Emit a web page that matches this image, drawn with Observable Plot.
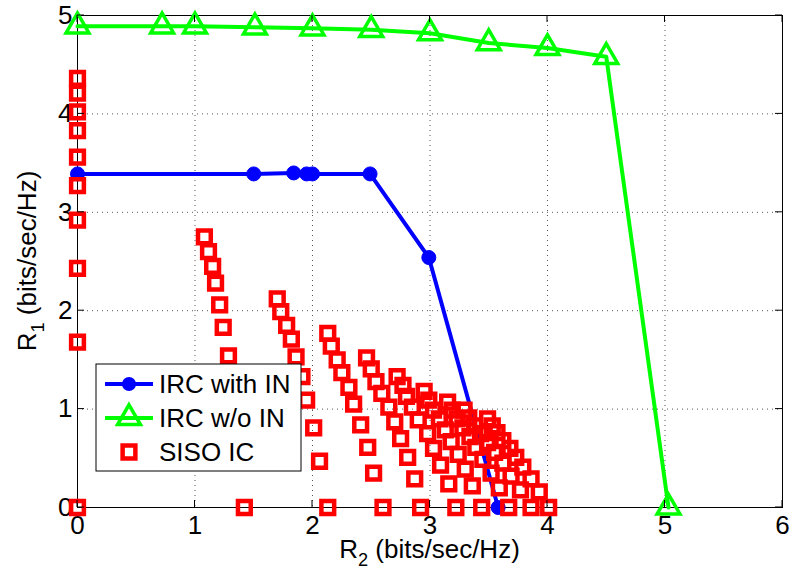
<!DOCTYPE html>
<html><head><meta charset="utf-8">
<script src="https://cdn.jsdelivr.net/npm/d3@7"></script>
<script src="https://cdn.jsdelivr.net/npm/@observablehq/plot@0.6"></script>
<style>
body{margin:0;background:#fff}
svg{font-family:"Liberation Sans",Arial,sans-serif}
</style>
</head><body><div id="chart"></div>
<script>
const xTicks = [0, 1, 2, 3, 4, 5, 6];
const yTicks = [0, 1, 2, 3, 4, 5];
const seriesNames = ["IRC with IN", "IRC w/o IN", "SISO IC"];

// IRC with IN
const ircWithX = [0, 1.50, 1.84, 1.95, 2.00, 2.49, 2.99, 3.58];
const ircWithY = [3.39, 3.39, 3.40, 3.39, 3.39, 3.39, 2.54, 0];

// IRC w/o IN
const ircWoX = [0, 0.72, 1.00, 1.51, 2.00, 2.50, 3.00, 3.50, 4.00, 4.50, 5.03];
const ircWoY = [4.89, 4.89, 4.89, 4.88, 4.87, 4.855, 4.82, 4.72, 4.67, 4.58, 0];

// SISO IC (each inner array is one chain of points)
const sisoX = [
  [0, 0, 0, 0, 0, 0, 0, 0, 0, 0],
  [1.08, 1.115, 1.15, 1.175, 1.21, 1.24, 1.285, 1.33, 1.37, 1.42],
  [1.70, 1.73, 1.78, 1.82, 1.86, 1.91, 1.95, 2.01, 2.06, 2.13],
  [2.13, 2.16, 2.21, 2.25, 2.31, 2.35, 2.41, 2.47, 2.52, 2.60],
  [2.46, 2.50, 2.54, 2.59, 2.65, 2.70, 2.75, 2.81, 2.87, 2.92],
  [2.72, 2.77, 2.80, 2.85, 2.90, 2.98, 3.03, 3.09, 3.16, 3.22],
  [2.95, 2.99, 3.03, 3.08, 3.13, 3.18, 3.24, 3.30, 3.36, 3.44],
  [3.15, 3.19, 3.23, 3.28, 3.34, 3.39, 3.45, 3.52, 3.59, 3.67],
  [3.29, 3.33, 3.38, 3.43, 3.49, 3.55, 3.62, 3.69, 3.77, 3.86],
  [3.49, 3.53, 3.57, 3.62, 3.68, 3.73, 3.79, 3.86, 3.93, 4.01]
];
const sisoY = [
  [4.36, 4.21, 4.02, 3.83, 3.56, 3.27, 2.92, 2.43, 1.68, 0],
  [2.75, 2.60, 2.45, 2.28, 2.06, 1.83, 1.54, 1.20, 0.70, 0],
  [2.12, 1.99, 1.85, 1.71, 1.53, 1.33, 1.09, 0.81, 0.47, 0],
  [1.77, 1.64, 1.50, 1.37, 1.22, 1.05, 0.84, 0.61, 0.35, 0],
  [1.52, 1.41, 1.28, 1.16, 1.02, 0.87, 0.70, 0.51, 0.29, 0],
  [1.33, 1.24, 1.13, 1.02, 0.89, 0.75, 0.60, 0.43, 0.24, 0],
  [1.18, 1.09, 0.99, 0.90, 0.79, 0.67, 0.54, 0.39, 0.22, 0],
  [1.07, 0.99, 0.90, 0.81, 0.72, 0.61, 0.49, 0.35, 0.20, 0],
  [0.99, 0.91, 0.83, 0.75, 0.66, 0.56, 0.45, 0.32, 0.18, 0],
  [0.90, 0.83, 0.76, 0.68, 0.60, 0.51, 0.41, 0.29, 0.16, 0]
];

const BLUE = "#0000ff", GREEN = "#00ff00", RED = "#ff0000";
const FS = 26;
const SQ_R = 7.2;

const withData = ircWithX.map((x, i) => ({x, y: ircWithY[i]}));
const woData = ircWoX.map((x, i) => ({x, y: ircWoY[i]}));
const sisoData = sisoX.flatMap((chain, c) => chain.map((x, i) => ({x, y: sisoY[c][i]})));

const plot = Plot.plot({
  width: 790,
  height: 579,
  marginLeft: 77,
  marginRight: 8,
  marginTop: 15,
  marginBottom: 72,
  style: {fontFamily: '"Liberation Sans", Arial, sans-serif', fontSize: FS + "px", color: "black", background: "white"},
  x: {domain: [0, 6]},
  y: {domain: [0, 5]},
  marks: [
    Plot.gridX(xTicks.slice(1, -1), {stroke: "#555", strokeOpacity: 1, strokeWidth: 1, strokeDasharray: "1,4"}),
    Plot.gridY(yTicks.slice(1, -1), {stroke: "#555", strokeOpacity: 1, strokeWidth: 1, strokeDasharray: "1,4"}),
    Plot.axisX({ticks: xTicks, tickSize: 0, tickPadding: 8, label: null, fontSize: FS, tickFormat: d => String(d)}),
    Plot.axisY({ticks: yTicks, tickSize: 0, tickPadding: 5, label: null, fontSize: FS, tickFormat: d => String(d)}),
    Plot.frame({stroke: "black", strokeWidth: 1}),
    Plot.line(withData, {x: "x", y: "y", stroke: BLUE, strokeWidth: 4}),
    Plot.dot(withData, {x: "x", y: "y", r: 7, fill: BLUE, stroke: BLUE, strokeWidth: 1}),
    Plot.line(woData, {x: "x", y: "y", stroke: GREEN, strokeWidth: 4}),
    Plot.dot(woData, {x: "x", y: "y", symbol: "triangle", r: 8.5, fill: "none", stroke: GREEN, strokeWidth: 3.5}),
    Plot.dot(sisoData, {x: "x", y: "y", symbol: "square", r: SQ_R, fill: "none", stroke: RED, strokeWidth: 4.5})
  ]
});

document.getElementById("chart").appendChild(plot);

const svg = d3.select(plot);
const sx = plot.scale("x"), sy = plot.scale("y");
const x0 = sx.apply(0), x1 = sx.apply(6), y0 = sy.apply(0), y1 = sy.apply(5);
const tk = 7;
const tg = svg.append("g").attr("stroke", "black").attr("stroke-width", 1);
xTicks.forEach(v => {
  const px = sx.apply(v);
  tg.append("line").attr("x1", px).attr("x2", px).attr("y1", y0).attr("y2", y0 - tk);
  tg.append("line").attr("x1", px).attr("x2", px).attr("y1", y1).attr("y2", y1 + tk);
});
yTicks.forEach(v => {
  const py = sy.apply(v);
  tg.append("line").attr("x1", x0).attr("x2", x0 + tk).attr("y1", py).attr("y2", py);
  tg.append("line").attr("x1", x1).attr("x2", x1 - tk).attr("y1", py).attr("y2", py);
});

// axis titles
const xt = svg.append("text").attr("x", (x0 + x1) / 2).attr("y", 558)
  .attr("text-anchor", "middle").attr("font-size", FS).attr("fill", "black");
xt.append("tspan").text("R");
xt.append("tspan").text("2").attr("font-size", FS * 0.7).attr("dy", 8);
xt.append("tspan").text(" (bits/sec/Hz)").attr("dy", -8);

const yt = svg.append("text").attr("transform", `translate(36,${(y0 + y1) / 2}) rotate(-90)`)
  .attr("text-anchor", "middle").attr("font-size", FS).attr("fill", "black");
yt.append("tspan").text("R");
yt.append("tspan").text("1").attr("font-size", FS * 0.7).attr("dy", 8);
yt.append("tspan").text(" (bits/sec/Hz)").attr("dy", -8);

// legend
const lg = svg.append("g");
lg.append("rect").attr("x", 96).attr("y", 364).attr("width", 205).attr("height", 107)
  .attr("fill", "white").attr("stroke", "black").attr("stroke-width", 1);
const rows = [384, 418, 452];
const colors = [BLUE, GREEN, RED];
rows.forEach((ry, i) => {
  if (i < 2) {
    lg.append("line").attr("x1", 105).attr("x2", 153).attr("y1", ry).attr("y2", ry)
      .attr("stroke", colors[i]).attr("stroke-width", 4);
  }
  if (i === 0) {
    lg.append("circle").attr("cx", 129).attr("cy", ry).attr("r", 7).attr("fill", BLUE);
  } else if (i === 1) {
    lg.append("path").attr("transform", `translate(129,${ry})`)
      .attr("d", d3.symbol(d3.symbolTriangle, Math.PI * 8.5 * 8.5)()).attr("fill", "none")
      .attr("stroke", GREEN).attr("stroke-width", 3.5);
  } else {
    lg.append("path").attr("transform", `translate(129,${ry})`)
      .attr("d", d3.symbol(d3.symbolSquare, Math.PI * SQ_R * SQ_R)()).attr("fill", "none")
      .attr("stroke", RED).attr("stroke-width", 4.5);
  }
  lg.append("text").attr("x", 159).attr("y", ry).attr("dy", "0.35em")
    .attr("text-anchor", "start").attr("font-size", FS).attr("fill", "black").text(seriesNames[i]);
});
</script>
</body></html>
